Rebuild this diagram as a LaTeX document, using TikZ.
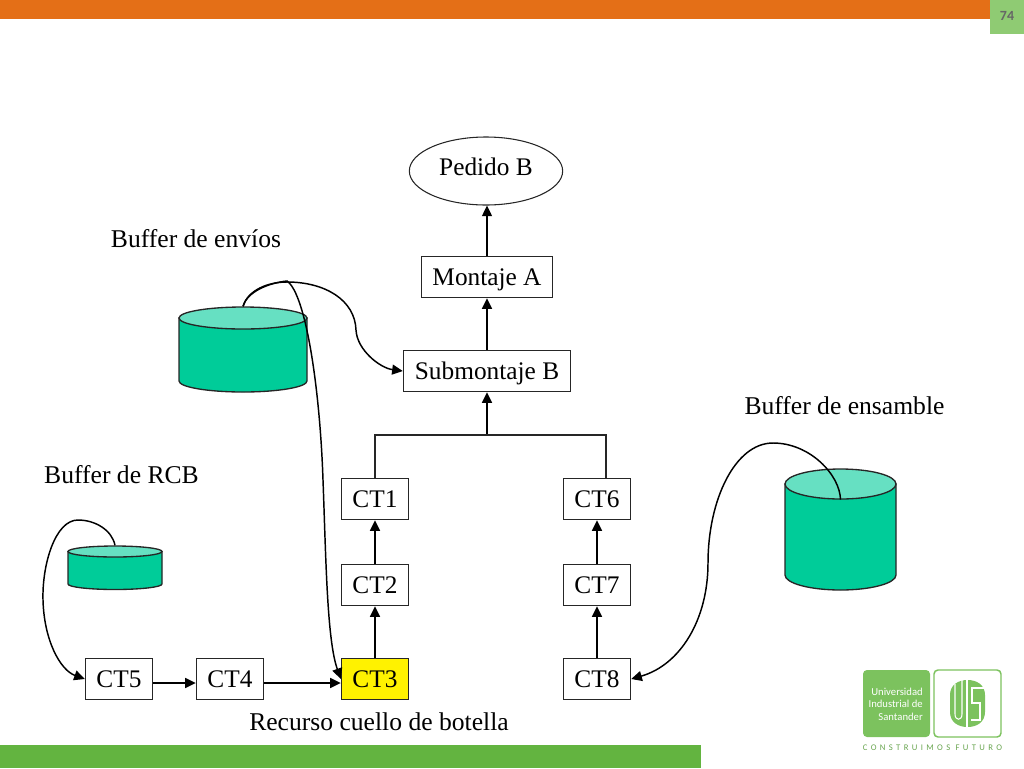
\documentclass[tikz,border=0pt]{standalone}
\usepackage{fontspec}
\setmainfont{Liberation Serif}
\setsansfont{Carlito}
\usetikzlibrary{arrows.meta, shapes, positioning}
\tikzset{>={Triangle[length=8pt,width=7.5pt]}}
\definecolor{barorange}{HTML}{E46F17}
\definecolor{bargreen}{HTML}{63B440}
\definecolor{pagegreen}{HTML}{8FCB73}
\definecolor{logogreen}{HTML}{7CC25E}
\definecolor{tankbody}{HTML}{00CC99}
\definecolor{tanktop}{HTML}{66E0C2}
\tikzset{
  stage/.style={draw=black!85, line width=0.8pt, minimum height=31pt, inner sep=0pt, text height=12.5pt, text depth=0pt, font=\fontsize{19}{20}\selectfont},
  ct/.style={stage, minimum width=50.5pt},
  tanklid/.style={ellipse, draw=black!85, fill=tanktop, line width=1pt, inner sep=0pt},
  tag/.style={inner sep=0pt, font=\fontsize{19.2}{20}\selectfont},
  link/.style={->, line width=1.1pt}
}
% name, centre x, lid centre y, x radius, y radius, depth
\newcommand{\drawtank}[6]{
  \filldraw [draw=black!85, fill=tankbody, line width=1pt] (#2-#4, #3) -- ++(0, #6) arc [start angle=180, end angle=0, x radius=#4, y radius=#5] -- ++(0, -#6) -- cycle;
  \node [tanklid, minimum width={#4*1.5pt}, minimum height={#5*1.5pt}] (#1) at (#2, #3) {};
}
\begin{document}
\begin{tikzpicture}[x=0.75pt, y=-0.75pt]
  \useasboundingbox (0, 0) rectangle (1024, 768);
  % page furniture
  \fill [barorange] (0, 0) rectangle (990, 19);
  \fill [pagegreen] (990, 0) rectangle (1024, 34);
  \node [inner sep=0pt, text=black!60, font=\sffamily\bfseries\fontsize{10.5}{10}\selectfont] (pagenum) at (1007, 16) {74};
  \fill [bargreen] (0, 745) rectangle (701, 768);
  % logo
  \fill [logogreen, rounded corners=3pt] (863, 670) rectangle (930, 737);
  \draw [logogreen, line width=1.1pt, rounded corners=3pt] (934, 670) rectangle (1001, 737);
  \node [align=right, anchor=east, inner sep=0pt, text=white, font=\sffamily\fontsize{8}{9.3}\selectfont] (uisname) at (923, 704) {Universidad\\Industrial de\\Santander};
  \fill [logogreen] (950, 695) .. controls (950, 685) and (958, 680) .. (967.5, 680) .. controls (977, 680) and (985, 685) .. (985, 695) -- (985, 712) .. controls (985, 722) and (977, 727) .. (967.5, 727) .. controls (958, 727) and (950, 722) .. (950, 712) -- cycle;
  \draw [white, line width=0.8pt] (955, 684) -- (955, 714) .. controls (955, 721) and (962, 721) .. (962, 714) -- (962, 679);
  \draw [white, line width=0.8pt] (967, 679) -- (967, 728);
  \draw [white, line width=0.8pt] (986, 688) -- (972, 688) -- (972, 703) -- (980, 703) -- (980, 720) -- (971, 720);
  \node [inner sep=0pt, text=logogreen!85!black, font=\sffamily\fontsize{6.5}{7}\selectfont\addfontfeature{LetterSpace=39}] (motto) at (932.5, 748) {CONSTRUIMOS FUTURO};

  % stages
  \node [ellipse, draw=black!85, line width=0.8pt, minimum width=115pt, minimum height=51pt, inner sep=0pt, text height=12.5pt, text depth=5.5pt, font=\fontsize{19}{20}\selectfont] (pedido) at (486, 171) {Pedido B};
  \node [stage, minimum width=98.5pt] (montaje) at (487, 277) {Montaje A};
  \node [stage, minimum width=125.5pt] (submontaje) at (487, 371) {Submontaje B};
  \node [ct] (ct1) at (375, 499) {CT1};
  \node [ct] (ct2) at (375, 585) {CT2};
  \node [ct, fill=yellow] (ct3) at (375, 679) {CT3};
  \node [ct] (ct4) at (230, 679) {CT4};
  \node [ct] (ct5) at (119, 679) {CT5};
  \node [ct] (ct6) at (597, 499) {CT6};
  \node [ct] (ct7) at (597, 585) {CT7};
  \node [ct] (ct8) at (597, 679) {CT8};

  % buffers
  \drawtank{envios}{243}{318}{64}{11}{63}
  \drawtank{rcb}{115}{551.5}{47}{5.5}{32.5}
  \drawtank{ensamble}{840.5}{484}{55.5}{15}{91}
  \node [tag] (lblenvios) at (196, 239) {Buffer de envíos};
  \node [tag] (lblrcb) at (121.5, 475) {Buffer de RCB};
  \node [tag] (lblensamble) at (844.5, 406) {Buffer de ensamble};
  \node [tag] (lblrecurso) at (379, 722) {Recurso cuello de botella};

  \coordinate (join) at (487, 435);
  \coordinate (joinright) at (606, 435);
  \coordinate (flowrow) at (0, 683);

  % flow
  \draw [link] (montaje.north) -- (montaje.north |- pedido.south);
  \draw [link] (submontaje) -- (montaje);
  \draw [link] (join) -- (submontaje);
  \draw [line width=0.8pt, black!85] (ct1) -- (ct1 |- join) -- (joinright) -- (joinright |- ct6.north);
  \draw [link] (ct2) -- (ct1);
  \draw [link] (ct3) -- (ct2);
  \draw [link] (ct7) -- (ct6);
  \draw [link] (ct8) -- (ct7);
  \draw [link] (ct5.east |- flowrow) -- (ct4.west |- flowrow);
  \draw [link] (ct4.east |- flowrow) -- (ct3.west |- flowrow);

  % buffer links
  \draw [link] (envios.north) .. controls (248, 290) and (268, 282) .. (287, 282) .. controls (325, 282) and (355, 300) .. (356, 330) .. controls (357, 350) and (380, 368) .. (submontaje.west);
  \draw [link] (envios.north) .. controls (247, 292) and (268, 283) .. (287, 281) .. controls (306, 294) and (320, 390) .. (323, 480) .. controls (326, 560) and (327, 640) .. (ct3.west);
  \draw [link] (rcb.north) .. controls (112, 530) and (95, 520) .. (78, 520) .. controls (55, 520) and (42, 565) .. (43, 600) .. controls (44, 640) and (60, 670) .. (ct5.west);
  \draw [link] (ensamble.south) .. controls (840, 475) and (810, 443) .. (773, 443) .. controls (735, 443) and (708, 500) .. (708, 563) .. controls (708, 620) and (680, 665) .. (ct8.east);
\end{tikzpicture}
\end{document}
